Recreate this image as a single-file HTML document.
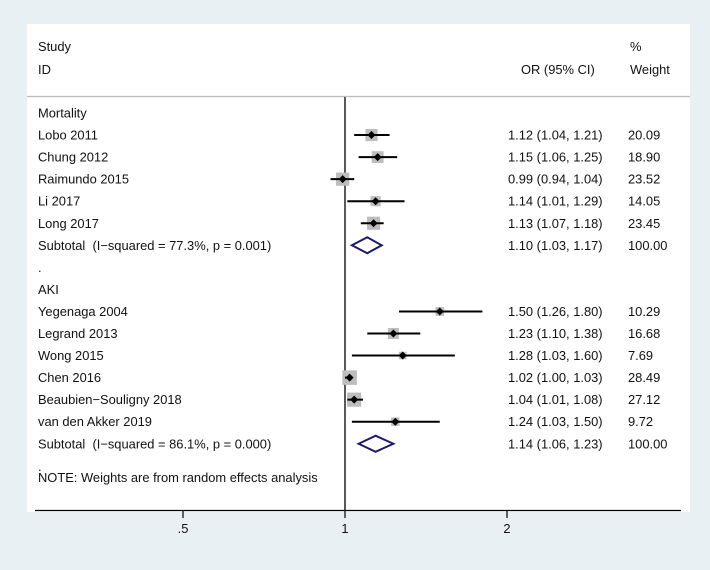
<!DOCTYPE html>
<html><head><meta charset="utf-8">
<style>
body{margin:0;width:710px;height:570px;background:#e8f0f3;overflow:hidden}
svg{display:block}
text{font-family:"Liberation Sans",sans-serif;font-size:12.9px;fill:#111;white-space:pre}
</style></head><body>
<svg id="c" width="710" height="570">
<rect x="27" y="24" width="663" height="488" fill="#fff"/>
<line x1="27" y1="96.5" x2="690" y2="96.5" stroke="#bbb" stroke-width="1.2"/>
<text x="38" y="51">Study</text>
<text x="38" y="74">ID</text>
<text x="521" y="74">OR (95% CI)</text>
<text x="630" y="51">%</text>
<text x="630" y="74">Weight</text>
<g id="rows"></g>
</svg>
<script>
const labels=["Mortality","Lobo 2011","Chung 2012","Raimundo 2015","Li 2017","Long 2017","Subtotal  (I−squared = 77.3%, p = 0.001)",".","AKI","Yegenaga 2004","Legrand 2013","Wong 2015","Chen 2016","Beaubien−Souligny 2018","van den Akker 2019","Subtotal  (I−squared = 86.1%, p = 0.000)"];
const kinds=["h","s","s","s","s","s","d","h","h","s","s","s","s","s","s","d"];
const ors=[null,1.12,1.15,0.99,1.14,1.13,1.10,null,null,1.50,1.23,1.28,1.02,1.04,1.24,1.14];
const lows=[null,1.04,1.06,0.94,1.01,1.07,1.03,null,null,1.26,1.10,1.03,1.00,1.01,1.03,1.06];
const highs=[null,1.21,1.25,1.04,1.29,1.18,1.17,null,null,1.80,1.38,1.60,1.03,1.08,1.50,1.23];
const weights=[null,20.09,18.90,23.52,14.05,23.45,100,null,null,10.29,16.68,7.69,28.49,27.12,9.72,100];
const ticks=[0.5,1,2];
const tickLabels=[".5","1","2"];
const NS="http://www.w3.org/2000/svg";
const svg=document.getElementById('c');
const X=v=>345+162*Math.log2(v);
const Y=i=>113+22.05*i;
function mk(t,a,p){const e=document.createElementNS(NS,t);for(const k in a)e.setAttribute(k,a[k]);(p||svg).appendChild(e);return e;}
const f=v=>v.toFixed(2);
const nl=mk('line',{x1:X(1),y1:97,x2:X(1),y2:511,stroke:'#000','stroke-width':1.3});


const ax=mk('line',{x1:35,y1:510.5,x2:681,y2:510.5,stroke:'#000','stroke-width':1.3});


ticks.forEach((t,i)=>{
  const tk=mk('line',{x1:X(t),y1:510,x2:X(t),y2:518,stroke:'#000','stroke-width':1.2});
  
  
  const tl=mk('text',{x:X(t),y:533,'text-anchor':'middle'});tl.textContent=tickLabels[i];
  
  
});
labels.forEach((l,i)=>{
  const y=Y(i);
  const t=mk('text',{x:38,y:y+4.5});t.textContent=l;
  
  
  if(ors[i]==null)return;
  const v=mk('text',{x:508,y:y+4.5});v.textContent=f(ors[i])+" ("+f(lows[i])+", "+f(highs[i])+")";
  
  
  const w=mk('text',{x:628,y:y+4.5});w.textContent=f(weights[i]);
  
  
  if(kinds[i]=="s"){
    const s=14.5*Math.sqrt(weights[i]/28.49);
    const sq=mk('rect',{x:X(ors[i])-s/2,y:y-s/2,width:s,height:s,fill:'#bdbdbd'});
    
    
    const ci=mk('line',{x1:X(lows[i]),y1:y,x2:X(highs[i]),y2:y,stroke:'#000','stroke-width':2});
    
    
    const p=X(ors[i]);
    const pt=mk('polygon',{points:`${p-4},${y} ${p},${y-4} ${p+4},${y} ${p},${y+4}`,fill:'#000'});
    
    
  }else{
    const a=X(lows[i]),b=X(highs[i]),c=X(ors[i]);
    const d=mk('polygon',{points:`${a},${y} ${c},${y-8} ${b},${y} ${c},${y+8}`,fill:'none',stroke:'#1a1a6e','stroke-width':2});
    
    
  }
});
const dot=mk('text',{x:38,y:471});dot.textContent=".";


const note=mk('text',{x:38,y:482});note.textContent="NOTE: Weights are from random effects analysis";


</script>
</body></html>
